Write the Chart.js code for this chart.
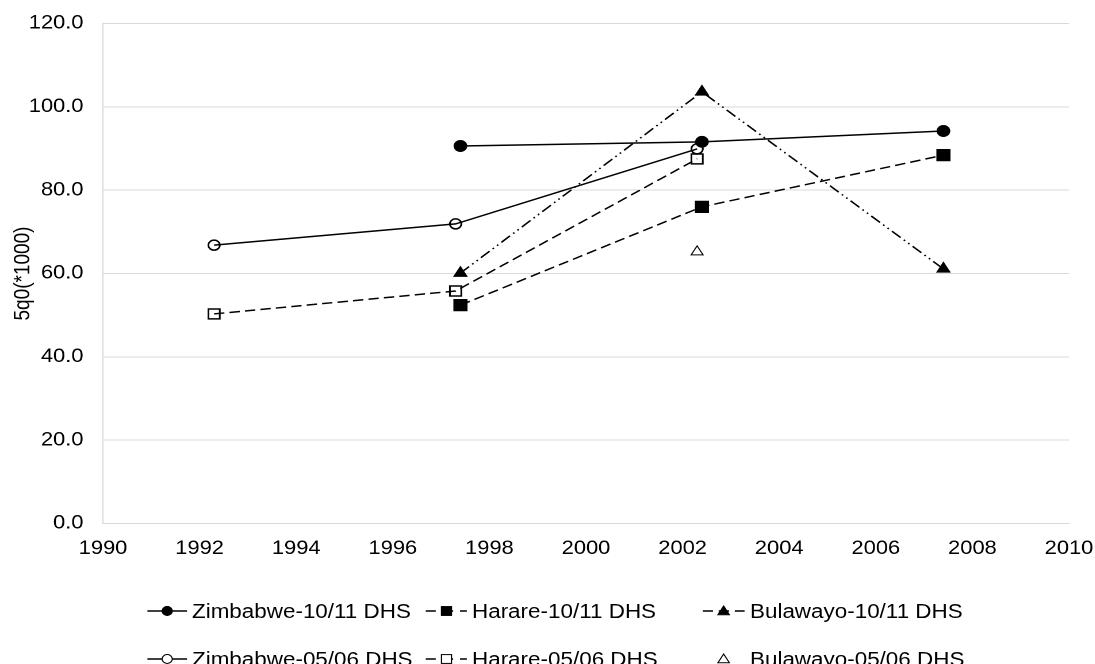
<!DOCTYPE html>
<html lang="en">
<head>
<meta charset="UTF-8">
<title>5q0 by survey</title>
<script src="https://cdn.jsdelivr.net/npm/chart.js"></script>
<style>
  body { margin: 0; background: #fff; overflow: hidden; font-family: "Liberation Sans", Arial, sans-serif; }
  #wrap { position: absolute; left: 0; top: 0; height: 664px; transform-origin: 0 0; }
  #chart { position: absolute; left: 0; top: 0; }
  .item { position: absolute; height: 22px; line-height: 22px; font-size: 19.5px; color: #000; white-space: nowrap; }
  .item svg { position: absolute; left: 0; top: 0; }
  .item span { position: absolute; top: 0; }
</style>
</head>
<body>
<div id="wrap">
  <canvas id="chart"></canvas>
  <div id="legend"></div>
</div>
<script>
// data
const years1011 = [1997.4, 2002.4, 2007.4];
const years0506 = [1992.3, 1997.3, 2002.3];
const zimbabwe1011 = [90.6, 91.6, 94.2];
const harare1011 = [52.4, 76.0, 88.4];
const bulawayo1011 = [60.1, 103.6, 61.1];
const zimbabwe0506 = [66.8, 71.9, 89.9];
const harare0506 = [50.3, 55.8, 87.5];
const bulawayoYears0506 = [2002.3];
const bulawayo0506 = [65.2];
const seriesLabels = ['Zimbabwe-10/11 DHS', 'Harare-10/11 DHS', 'Bulawayo-10/11 DHS',
                      'Zimbabwe-05/06 DHS', 'Harare-05/06 DHS', 'Bulawayo-05/06 DHS'];
const xTicks = [1990, 1992, 1994, 1996, 1998, 2000, 2002, 2004, 2006, 2008, 2010];
const yTicks = [0, 20, 40, 60, 80, 100, 120];

// the reference is stretched sideways, so draw narrow and scale the box
const S = 1.15;
const W = Math.round(1095 / S);
const H = 664;
const wrap = document.getElementById('wrap');
wrap.style.width = W + 'px';
wrap.style.transform = 'scaleX(' + S + ')';

const plotLeft = 103 / S, plotRight = 1069 / S, plotTop = 23.5, plotBottom = 523.5;
const FONT = 'Liberation Sans';

const canvas = document.getElementById('chart');
canvas.width = W;
canvas.height = H;

function pts(xs, ys) {
    return xs.map((x, i) => ({ x: x, y: ys[i] }));
}

// keep the plot box where the reference has it, whatever the label sizes
function noPad(s) {
    s.paddingTop = 0; s.paddingBottom = 0; s.paddingLeft = 0; s.paddingRight = 0;
}

const dashed = [9, 4.5];
const dashDotDot = [10, 3.5, 1.5, 3.5, 1.5, 3.5];
const clear = 'rgba(0,0,0,0)';

const chart = new Chart(canvas.getContext('2d'), {
    type: 'line',
    data: {
        datasets: [
            { label: seriesLabels[0], data: pts(years1011, zimbabwe1011), borderColor: '#000', borderWidth: 1.5,
              pointStyle: 'circle', pointRadius: 5.2, pointBackgroundColor: '#000', pointBorderColor: '#000' },
            { label: seriesLabels[1], data: pts(years1011, harare1011), borderColor: '#000', borderWidth: 1.5, borderDash: dashed,
              pointStyle: 'rect', pointRadius: 7.6, pointBackgroundColor: '#000', pointBorderColor: '#000' },
            { label: seriesLabels[2], data: pts(years1011, bulawayo1011), borderColor: '#000', borderWidth: 1.5, borderDash: dashDotDot,
              pointStyle: 'triangle', pointRadius: 6, pointBackgroundColor: '#000', pointBorderColor: '#000' },
            { label: seriesLabels[3], data: pts(years0506, zimbabwe0506), borderColor: '#000', borderWidth: 1.5,
              pointStyle: 'circle', pointRadius: 5, pointBackgroundColor: clear, pointBorderColor: '#000' },
            { label: seriesLabels[4], data: pts(years0506, harare0506), borderColor: '#000', borderWidth: 1.5, borderDash: dashed,
              pointStyle: 'rect', pointRadius: 7, pointBackgroundColor: clear, pointBorderColor: '#000' },
            { label: seriesLabels[5], data: pts(bulawayoYears0506, bulawayo0506), borderColor: '#000', showLine: false,
              pointStyle: 'triangle', pointRadius: 6, pointBackgroundColor: clear, pointBorderColor: '#000' }
        ]
    },
    options: {
        responsive: false,
        animation: false,
        devicePixelRatio: 2,
        layout: { padding: { left: 0, right: W - plotRight, top: plotTop, bottom: 0 } },
        plugins: { legend: { display: false }, tooltip: { enabled: false } },
        scales: {
            x: {
                type: 'linear',
                min: 1990, max: 2010,
                afterBuildTicks: s => { s.ticks = xTicks.map(v => ({ value: v })); },
                afterFit: s => { s.height = H - plotBottom; noPad(s); },
                ticks: { color: '#000', font: { size: 19, family: FONT }, padding: 6,
                         maxRotation: 0, autoSkip: false, callback: v => String(v) },
                grid: { display: false },
                border: { color: '#d9d9d9' }
            },
            y: {
                min: 0, max: 120,
                afterBuildTicks: s => { s.ticks = yTicks.map(v => ({ value: v })); },
                afterFit: s => { s.width = plotLeft; noPad(s); },
                ticks: { color: '#000', font: { size: 19, family: FONT }, padding: 17,
                         callback: v => v.toFixed(1) },
                grid: { color: '#d9d9d9', drawTicks: false },
                border: { color: '#d9d9d9' },
                title: { display: true, text: '5q0(*1000)', color: '#000',
                         font: { size: 19, family: FONT }, padding: { top: 9, bottom: 0 } }
            }
        }
    }
});

// legend drawn as html: line sample with the marker in the middle
function marker(kind, cx, cy) {
    const f = kind.fill ? '#000' : '#fff';
    if (kind.shape === 'circle') return `<circle cx="${cx}" cy="${cy}" r="4.4" fill="${f}" stroke="#000" stroke-width="1"/>`;
    if (kind.shape === 'rect') return `<rect x="${cx - 4.4}" y="${cy - 4.4}" width="8.8" height="8.8" fill="${f}" stroke="#000" stroke-width="1"/>`;
    return `<polygon points="${cx},${cy - 5} ${cx + 5},${cy + 3.8} ${cx - 5},${cy + 3.8}" fill="${f}" stroke="#000" stroke-width="1"/>`;
}

const legendItems = [
    { shape: 'circle', fill: true, dash: '', line: true },
    { shape: 'rect', fill: true, dash: '9 6', line: true },
    { shape: 'triangle', fill: true, dash: '9 5', line: true },
    { shape: 'circle', fill: false, dash: '', line: true },
    { shape: 'rect', fill: false, dash: '9 6', line: true },
    { shape: 'triangle', fill: false, dash: '', line: false }
];
const cols = [[147, 187, 192], [425, 467, 472], [703, 745, 750]];
const rows = [611, 659];

const legend = document.getElementById('legend');
legendItems.forEach((it, i) => {
    const c = cols[i % 3], cy = rows[Math.floor(i / 3)];
    const x0 = c[0] / S, w = (c[1] - c[0]) / S, tx = (c[2] - c[0]) / S;
    const div = document.createElement('div');
    div.className = 'item';
    div.style.left = x0 + 'px';
    div.style.top = (cy - 11) + 'px';
    let svg = `<svg width="${w}" height="22" viewBox="0 0 ${w} 22">`;
    if (it.line) svg += `<line x1="0" y1="11" x2="${w}" y2="11" stroke="#000" stroke-width="1.5"${it.dash ? ` stroke-dasharray="${it.dash}"` : ''}/>`;
    svg += marker(it, w / 2, 11) + '</svg>';
    div.innerHTML = svg + `<span style="left:${tx}px">${seriesLabels[i]}</span>`;
    legend.appendChild(div);
});
</script>
</body>
</html>
